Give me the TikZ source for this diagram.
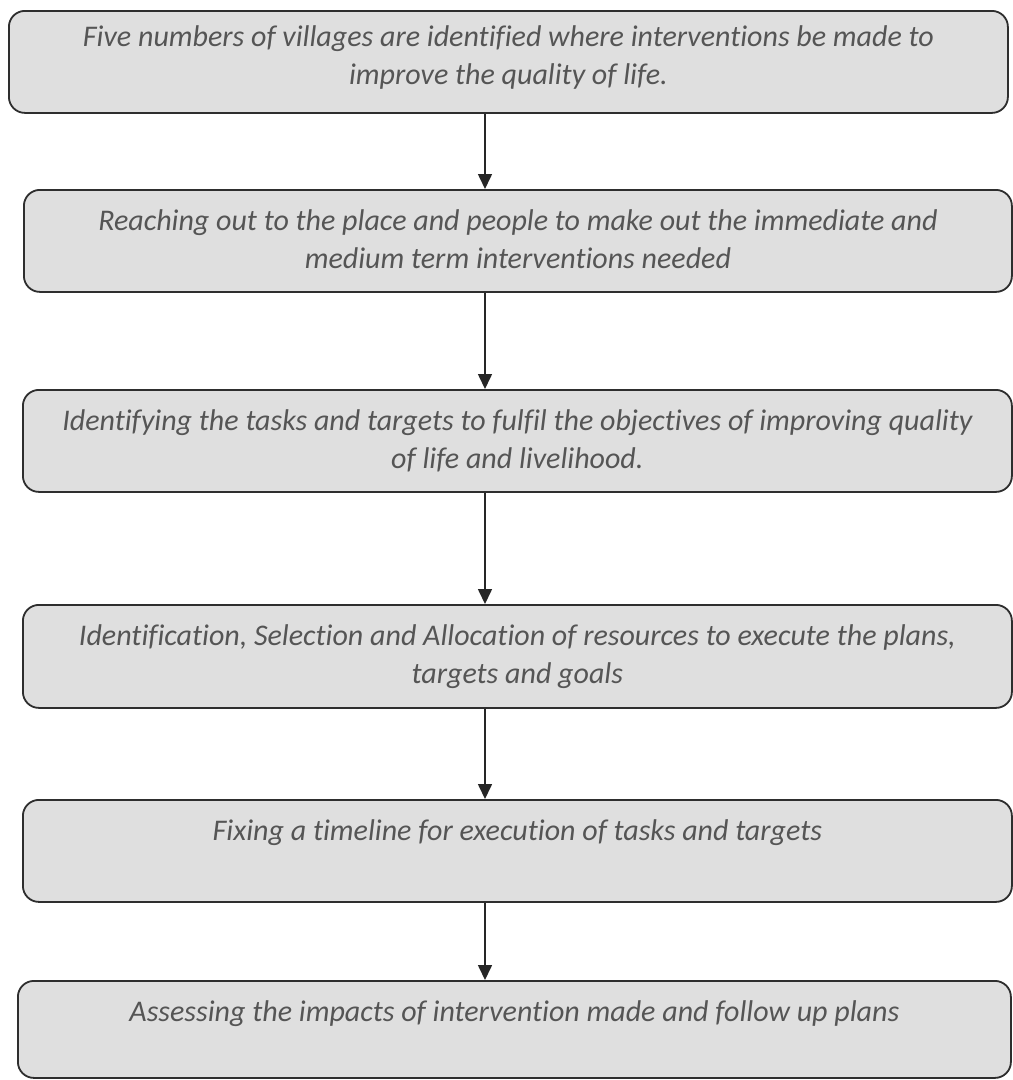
\documentclass[tikz,border=0pt]{standalone}
\usepackage{fontspec}
\setmainfont[Ligatures=NoCommon]{Carlito}
\usetikzlibrary{arrows.meta}
\definecolor{boxfill}{HTML}{DFDFDF}
\definecolor{boxline}{HTML}{2E2E2E}
\definecolor{txt}{HTML}{555555}
\tikzset{
  flowbox/.style={draw=boxline, line width=1.8pt, fill=boxfill, rounded corners=16pt, inner sep=0pt, anchor=north west},
  flowarrow/.style={draw=black!85, line width=1.6pt, -{Triangle[width=14pt,length=15pt]}}
}
\newcommand{\boxtext}[4][20]{\parbox[c][#3pt][t]{#2pt}{\centering\fontsize{30}{37.5}\selectfont\itshape\color{txt}\vspace{#1pt}#4\par}}
\begin{document}
\begin{tikzpicture}[x=1pt,y=-1pt]
\useasboundingbox (0,0) rectangle (1013,1080);
\fill[white] (0,0) rectangle (1013,1080);
\coordinate (ax) at (485,0);
\node[flowbox] (b1) at (8,10) {\boxtext[15]{999}{102}{Five numbers of villages are identified where interventions be made to\\ improve the quality of life.}};
\node[flowbox] (b2) at (23,189) {\boxtext{988}{102}{Reaching out to the place and people to make out the immediate and\\ medium term interventions needed}};
\node[flowbox] (b3) at (22,389) {\boxtext{989}{102}{Identifying the tasks and targets to fulfil the objectives of improving quality\\ of life and livelihood.}};
\node[flowbox] (b4) at (22,604) {\boxtext{989}{103}{Identification, Selection and Allocation of resources to execute the plans,\\ targets and goals}};
\node[flowbox] (b5) at (22,799) {\boxtext{989}{102}{Fixing a timeline for execution of tasks and targets}};
\node[flowbox] (b6) at (17,980) {\boxtext{993}{97}{Assessing the impacts of intervention made and follow up plans}};
\draw[flowarrow] (b1.south -| ax) -- (b2.north -| ax);
\draw[flowarrow] (b2.south -| ax) -- (b3.north -| ax);
\draw[flowarrow] (b3.south -| ax) -- (b4.north -| ax);
\draw[flowarrow] (b4.south -| ax) -- (b5.north -| ax);
\draw[flowarrow] (b5.south -| ax) -- (b6.north -| ax);
\end{tikzpicture}
\end{document}
